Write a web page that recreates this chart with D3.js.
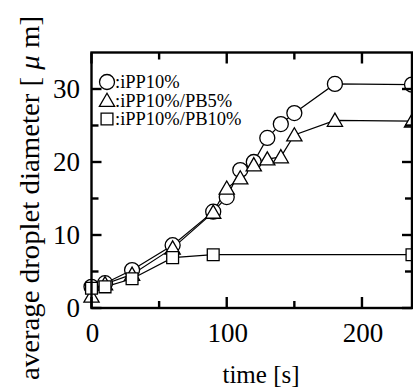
<!DOCTYPE html>
<html>
<head>
<meta charset="utf-8">
<script src="https://cdn.jsdelivr.net/npm/d3@7"></script>
<style>
  html, body { margin: 0; padding: 0; background: #fff; overflow: hidden; }
</style>
</head>
<body>
<div id="chart"></div>
<script>
// data
const seriesNames = [":iPP10%", ":iPP10%/PB5%", ":iPP10%/PB10%"];
const seriesSymbols = ["circle", "triangle", "square"];

const timeIPP = [0, 10, 30, 60, 90, 100, 110, 120, 130, 140, 150, 180, 237];
const diamIPP = [2.9, 3.4, 5.2, 8.6, 13.2, 15.2, 18.9, 20.0, 23.3, 25.2, 26.7, 30.7, 30.6];

const timePB5 = [0, 10, 30, 60, 90, 100, 110, 120, 130, 140, 150, 180, 237];
const diamPB5 = [1.6, 3.3, 4.6, 8.2, 13.1, 16.4, 17.8, 19.6, 20.4, 20.7, 23.7, 25.7, 25.6];

const timePB10 = [0, 10, 30, 60, 90, 237];
const diamPB10 = [2.7, 2.9, 4.0, 6.9, 7.3, 7.3];

const xMajorTicks = [0, 100, 200];
const xMinorTicks = [50, 150];
const yMajorTicks = [0, 10, 20, 30];
const yMinorTicks = [5, 15, 25];

const series = [
  { name: seriesNames[0], symbol: seriesSymbols[0], t: timeIPP, v: diamIPP },
  { name: seriesNames[1], symbol: seriesSymbols[1], t: timePB5, v: diamPB5 },
  { name: seriesNames[2], symbol: seriesSymbols[2], t: timePB10, v: diamPB10 }
];

const width = 413, height = 390;
const serif = "'Liberation Serif', 'Times New Roman', serif";

const svg = d3.select("#chart").append("svg")
  .attr("width", width)
  .attr("height", height)
  .attr("font-family", serif);

const x = d3.scaleLinear().domain([0, 237]).range([91.5, 412]);
const y = d3.scaleLinear().domain([0, 35]).range([308, 52.5]);

// symbols
const symbolPath = {
  circle: d3.symbol().type(d3.symbolCircle).size(Math.PI * 7.5 * 7.5)(),
  triangle: d3.symbol().type(d3.symbolTriangle).size(100)(),
  square: d3.symbol().type(d3.symbolSquare).size(140)()
};

// lines first
const line = d3.line().x(d => x(d[0])).y(d => y(d[1]));
series.forEach(s => {
  svg.append("path")
    .attr("d", line(s.t.map((t, i) => [t, s.v[i]])))
    .attr("fill", "none")
    .attr("stroke", "#000")
    .attr("stroke-width", 1.2);
});

// markers
series.forEach(s => {
  svg.append("g").selectAll("path")
    .data(s.t.map((t, i) => [t, s.v[i]]))
    .join("path")
    .attr("d", symbolPath[s.symbol])
    .attr("transform", d => `translate(${x(d[0])},${y(d[1]) + (s.symbol === "triangle" ? 1.5 : 0)})`)
    .attr("fill", "#fff")
    .attr("stroke", "#000")
    .attr("stroke-width", 1.3);
});

// frame
const x0 = x.range()[0], x1 = x.range()[1], y0 = y.range()[0], y1 = y.range()[1];
svg.append("rect")
  .attr("x", x0).attr("y", y1)
  .attr("width", x1 - x0).attr("height", y0 - y1)
  .attr("fill", "none")
  .attr("stroke", "#000")
  .attr("stroke-width", 2.4);

// inward ticks on all four sides
const tickG = svg.append("g").attr("stroke", "#000").attr("stroke-width", 2.4);
function xTicks(vals, len) {
  vals.forEach(v => {
    tickG.append("line").attr("x1", x(v)).attr("x2", x(v)).attr("y1", y0).attr("y2", y0 - len);
    tickG.append("line").attr("x1", x(v)).attr("x2", x(v)).attr("y1", y1).attr("y2", y1 + len);
  });
}
function yTicks(vals, len) {
  vals.forEach(v => {
    tickG.append("line").attr("x1", x0).attr("x2", x0 + len).attr("y1", y(v)).attr("y2", y(v));
    tickG.append("line").attr("x1", x1).attr("x2", x1 - len).attr("y1", y(v)).attr("y2", y(v));
  });
}
xTicks(xMajorTicks, 11);
xTicks(xMinorTicks, 7);
yTicks(yMajorTicks, 10);
yTicks(yMinorTicks, 7);

// tick labels
svg.append("g").selectAll("text")
  .data(xMajorTicks)
  .join("text")
  .attr("x", d => x(d) + 1)
  .attr("y", 341.5)
  .attr("text-anchor", "middle")
  .attr("font-size", 27)
  .text(d => d);

svg.append("g").selectAll("text")
  .data(yMajorTicks)
  .join("text")
  .attr("x", 80)
  .attr("y", d => y(d))
  .attr("dy", "0.34em")
  .attr("text-anchor", "end")
  .attr("font-size", 27)
  .text(d => d);

// axis titles
svg.append("text")
  .attr("x", 261)
  .attr("y", 383)
  .attr("text-anchor", "middle")
  .attr("font-size", 25)
  .text("time [s]");

// y title runs from y=380 up to about y=14
const yTitle = svg.append("text")
  .attr("transform", "translate(39,380) rotate(-90)")
  .attr("text-anchor", "start")
  .attr("font-size", 28)
  .attr("textLength", 364)
  .attr("lengthAdjust", "spacingAndGlyphs");
yTitle.append("tspan").text("average droplet diameter [ ");
yTitle.append("tspan").attr("font-style", "italic").text("\u03bc");
yTitle.append("tspan").text(" m]");

// legend
const legend = svg.append("g");
series.forEach((s, i) => {
  const ly = 82 + i * 18.5;
  legend.append("path")
    .attr("d", symbolPath[s.symbol])
    .attr("transform", `translate(107,${ly + (s.symbol === "triangle" ? 1.5 : 0)})`)
    .attr("fill", "#fff")
    .attr("stroke", "#000")
    .attr("stroke-width", 1.3);
  legend.append("text")
    .attr("x", 115)
    .attr("y", ly + 6)
    .attr("font-size", 18.5)
    .text(s.name);
});
</script>
</body>
</html>
